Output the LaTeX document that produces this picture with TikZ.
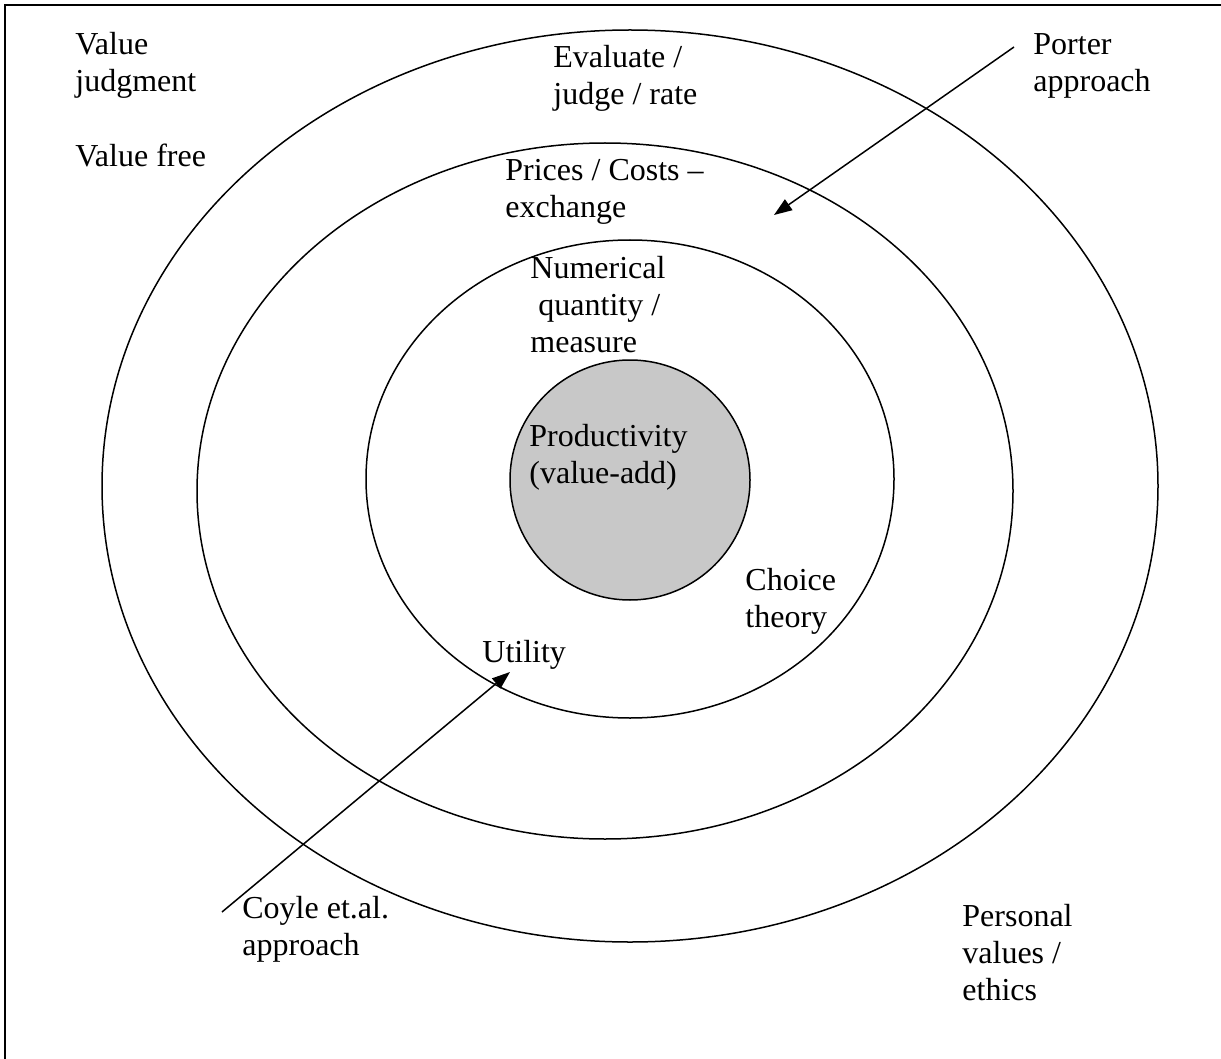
\documentclass[tikz,border=0pt]{standalone}
\usepackage{fontspec}
\setmainfont{Liberation Serif}
\usetikzlibrary{shapes.geometric,arrows.meta}
\begin{document}
\begin{tikzpicture}[x=0.5pt,y=-0.5pt,
  ring/.style={ellipse,draw,line width=0.75pt,inner sep=0pt},
  lbl/.style={anchor=base west,align=left,inner sep=0pt,font=\fontsize{16pt}{18.5pt}\selectfont},
  arr/.style={line width=0.75pt,-{Triangle[length=9pt,width=6.5pt]}}]
\useasboundingbox (0,0) rectangle (1221,1059);
\fill[white] (0,0) rectangle (1221,1059);
\draw[line width=1pt] (5,1059) -- (5,5) -- (1221,5);
% rings
\node[ring,minimum width=528pt,minimum height=456pt] (outer) at (630,486) {};
\node[ring,minimum width=408pt,minimum height=348pt] (middle) at (605,491) {};
\node[ring,minimum width=264pt,minimum height=239pt] (inner) at (630,479) {};
\node[circle,draw,line width=0.75pt,inner sep=0pt,minimum size=120pt,
      fill={rgb,255:red,200;green,200;blue,200}] (core) at (630,480) {};
% labels (anchor = baseline of the last line)
\node[lbl] (valj) at (75,92) {Value\\judgment};
\node[lbl] (valf) at (75,167) {Value free};
\node[lbl] (eval) at (553,105) {Evaluate /\\judge / rate};
\node[lbl] (price) at (505,218) {Prices / Costs –\\exchange};
\node[lbl] (porter) at (1033,92) {Porter\\approach};
\node[lbl] (num) at (530,352) {Numerical\\\hspace{0.25em}quantity /\\measure};
\node[lbl] (prod) at (529,483) {Productivity\\(value-add)};
\node[lbl] (choice) at (745,627) {Choice\\theory};
\node[lbl] (util) at (482,662) {Utility};
\node[lbl] (coyle) at (242,955) {Coyle et.al.\\approach};
\node[lbl] (pers) at (962,1000) {Personal\\values /\\ethics};
% arrows
\coordinate (ptail) at (1014,47);
\coordinate (ptip) at (774,215);
\coordinate (ctail) at (222,912);
\coordinate (ctip) at (510,672);
\draw[arr] (ptail) -- (ptip);
\draw[arr] (ctail) -- (ctip);
\end{tikzpicture}
\end{document}
